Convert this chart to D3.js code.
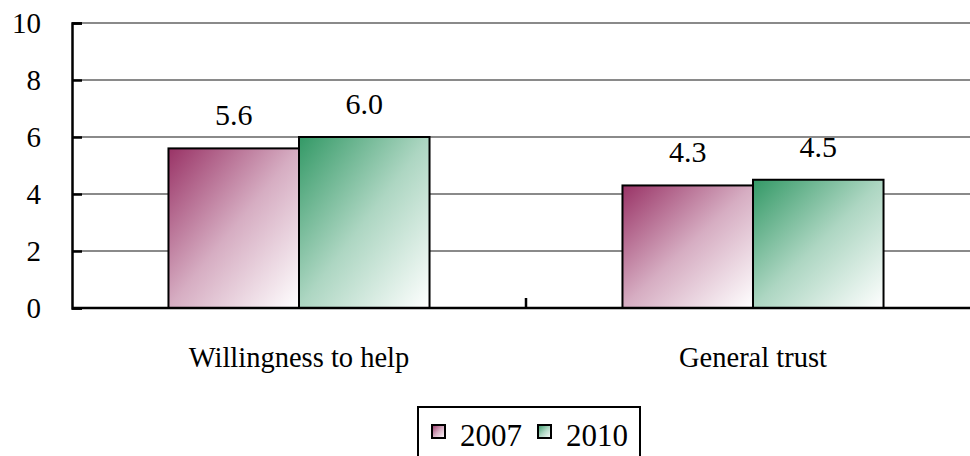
<!DOCTYPE html>
<html>
<head>
<meta charset="utf-8">
<script src="https://cdn.jsdelivr.net/npm/d3@7"></script>
<style>
  html, body { margin: 0; padding: 0; background: #fff; }
  svg { display: block; }
</style>
</head>
<body>
<svg id="chart" width="970" height="456"></svg>
<script>
// Survey indicators, scored 0-10
const categories = ["Willingness to help", "General trust"];
const seriesNames = ["2007", "2010"];
const values2007 = [5.6, 4.3];
const values2010 = [6.0, 4.5];
const yTicks = [0, 2, 4, 6, 8, 10];
const seriesColors = ["#993366", "#339966"];

const FONT = "Liberation Serif";

// Make sure the serif face is loaded before any text is laid out
(function warmFont() {
  const ctx = document.createElement("canvas").getContext("2d");
  ctx.font = "30px '" + FONT + "'";
  ctx.measureText("Willingness to help 0123456789.");
  if (document.fonts && document.fonts.check) document.fonts.check("30px '" + FONT + "'");
})();

const seriesValues = [values2007, values2010];
const rows = categories.map((c, i) => ({
  category: c,
  bars: seriesNames.map((s, j) => ({ series: s, idx: j, value: seriesValues[j][i] }))
}));

const svg = d3.select("#chart");
const plotLeft = 72, plotRight = 980, plotTop = 23, plotBottom = 308;

const x0 = d3.scaleBand().domain(categories).range([plotLeft, plotRight]).paddingInner(0).paddingOuter(0);
const groupFrac = 0.575;
const x1 = d3.scaleBand().domain(seriesNames)
  .range([0, x0.bandwidth() * groupFrac]).padding(0);
const groupOffset = x0.bandwidth() * (1 - groupFrac) / 2;
const y = d3.scaleLinear().domain([0, 10]).range([plotBottom, plotTop]);

// Diagonal gradients: full colour at top-left fading to white at bottom-right
const defs = svg.append("defs");
seriesColors.forEach((col, i) => {
  const g = defs.append("linearGradient")
    .attr("id", "grad" + i)
    .attr("x1", "0%").attr("y1", "0%").attr("x2", "100%").attr("y2", "100%");
  g.append("stop").attr("offset", "0%").attr("stop-color", col);
  g.append("stop").attr("offset", "50%").attr("stop-color", d3.interpolateRgb(col, "#fff")(0.6));
  g.append("stop").attr("offset", "100%").attr("stop-color", "#ffffff");
});

// Horizontal gridlines
svg.append("g")
  .selectAll("line")
  .data(yTicks.filter(t => t > 0))
  .join("line")
  .attr("x1", plotLeft).attr("x2", 970)
  .attr("y1", d => y(d)).attr("y2", d => y(d))
  .attr("stroke", "#8a8a8a").attr("stroke-width", 2);

// Bars
const groups = svg.append("g").selectAll("g")
  .data(rows)
  .join("g")
  .attr("transform", d => `translate(${x0(d.category) + groupOffset},0)`);

groups.selectAll("rect")
  .data(d => d.bars)
  .join("rect")
  .attr("x", d => x1(d.series))
  .attr("y", d => y(d.value))
  .attr("width", x1.bandwidth())
  .attr("height", d => y(0) - y(d.value))
  .attr("fill", d => `url(#grad${d.idx})`)
  .attr("stroke", "#000").attr("stroke-width", 2);

groups.selectAll("text.value")
  .data(d => d.bars)
  .join("text")
  .attr("class", "value")
  .attr("x", d => x1(d.series) + x1.bandwidth() / 2)
  .attr("y", d => y(d.value) - 23)
  .attr("text-anchor", "middle")
  .attr("font-family", FONT)
  .attr("font-size", 30)
  .attr("fill", "#000")
  .text(d => d3.format(".1f")(d.value));

// Y axis
const yAxis = svg.append("g")
  .attr("transform", `translate(${plotLeft},0)`)
  .call(d3.axisLeft(y).tickValues(yTicks).tickSize(-10).tickPadding(31).tickFormat(d3.format("d")));
yAxis.attr("font-family", FONT).attr("font-size", 29);
yAxis.select(".domain").attr("stroke", "#000").attr("stroke-width", 2.5);
yAxis.selectAll(".tick line").attr("stroke", "#000").attr("stroke-width", 2.5);
yAxis.selectAll(".tick text")
  .attr("font-family", FONT)
  .attr("font-size", 29)
  .attr("fill", "#000")
  .attr("dy", "0.34em");

// X axis: baseline plus a separator tick between categories
const xAxis = svg.append("g").attr("transform", `translate(0,${plotBottom})`);
xAxis.append("line")
  .attr("x1", plotLeft).attr("x2", 970).attr("y1", 0).attr("y2", 0)
  .attr("stroke", "#000").attr("stroke-width", 2.5);
xAxis.selectAll("line.sep")
  .data(categories.slice(1))
  .join("line")
  .attr("class", "sep")
  .attr("x1", d => x0(d)).attr("x2", d => x0(d))
  .attr("y1", 0).attr("y2", -10)
  .attr("stroke", "#000").attr("stroke-width", 2.5);
xAxis.selectAll("text.cat")
  .data(categories)
  .join("text")
  .attr("class", "cat")
  .attr("x", d => x0(d) + x0.bandwidth() / 2)
  .attr("y", 59)
  .attr("text-anchor", "middle")
  .attr("font-family", FONT)
  .attr("font-size", 28.5)
  .attr("fill", "#000")
  .text(d => d);

// Legend
const legend = svg.append("g").attr("transform", "translate(418,407)");
legend.append("rect")
  .attr("x", 0).attr("y", 0).attr("width", 222).attr("height", 60)
  .attr("fill", "#fff").attr("stroke", "#000").attr("stroke-width", 2);
const legendX = [14, 120];
const items = legend.selectAll("g.item")
  .data(seriesNames)
  .join("g")
  .attr("class", "item")
  .attr("transform", (d, i) => `translate(${legendX[i]},0)`);
items.append("rect")
  .attr("x", 0).attr("y", 18).attr("width", 13).attr("height", 13)
  .attr("fill", (d, i) => `url(#grad${i})`)
  .attr("stroke", "#000").attr("stroke-width", 2);
items.append("text")
  .attr("x", 28).attr("y", 39)
  .attr("font-family", FONT)
  .attr("font-size", 31)
  .attr("fill", "#000")
  .text(d => d);
</script>
</body>
</html>
